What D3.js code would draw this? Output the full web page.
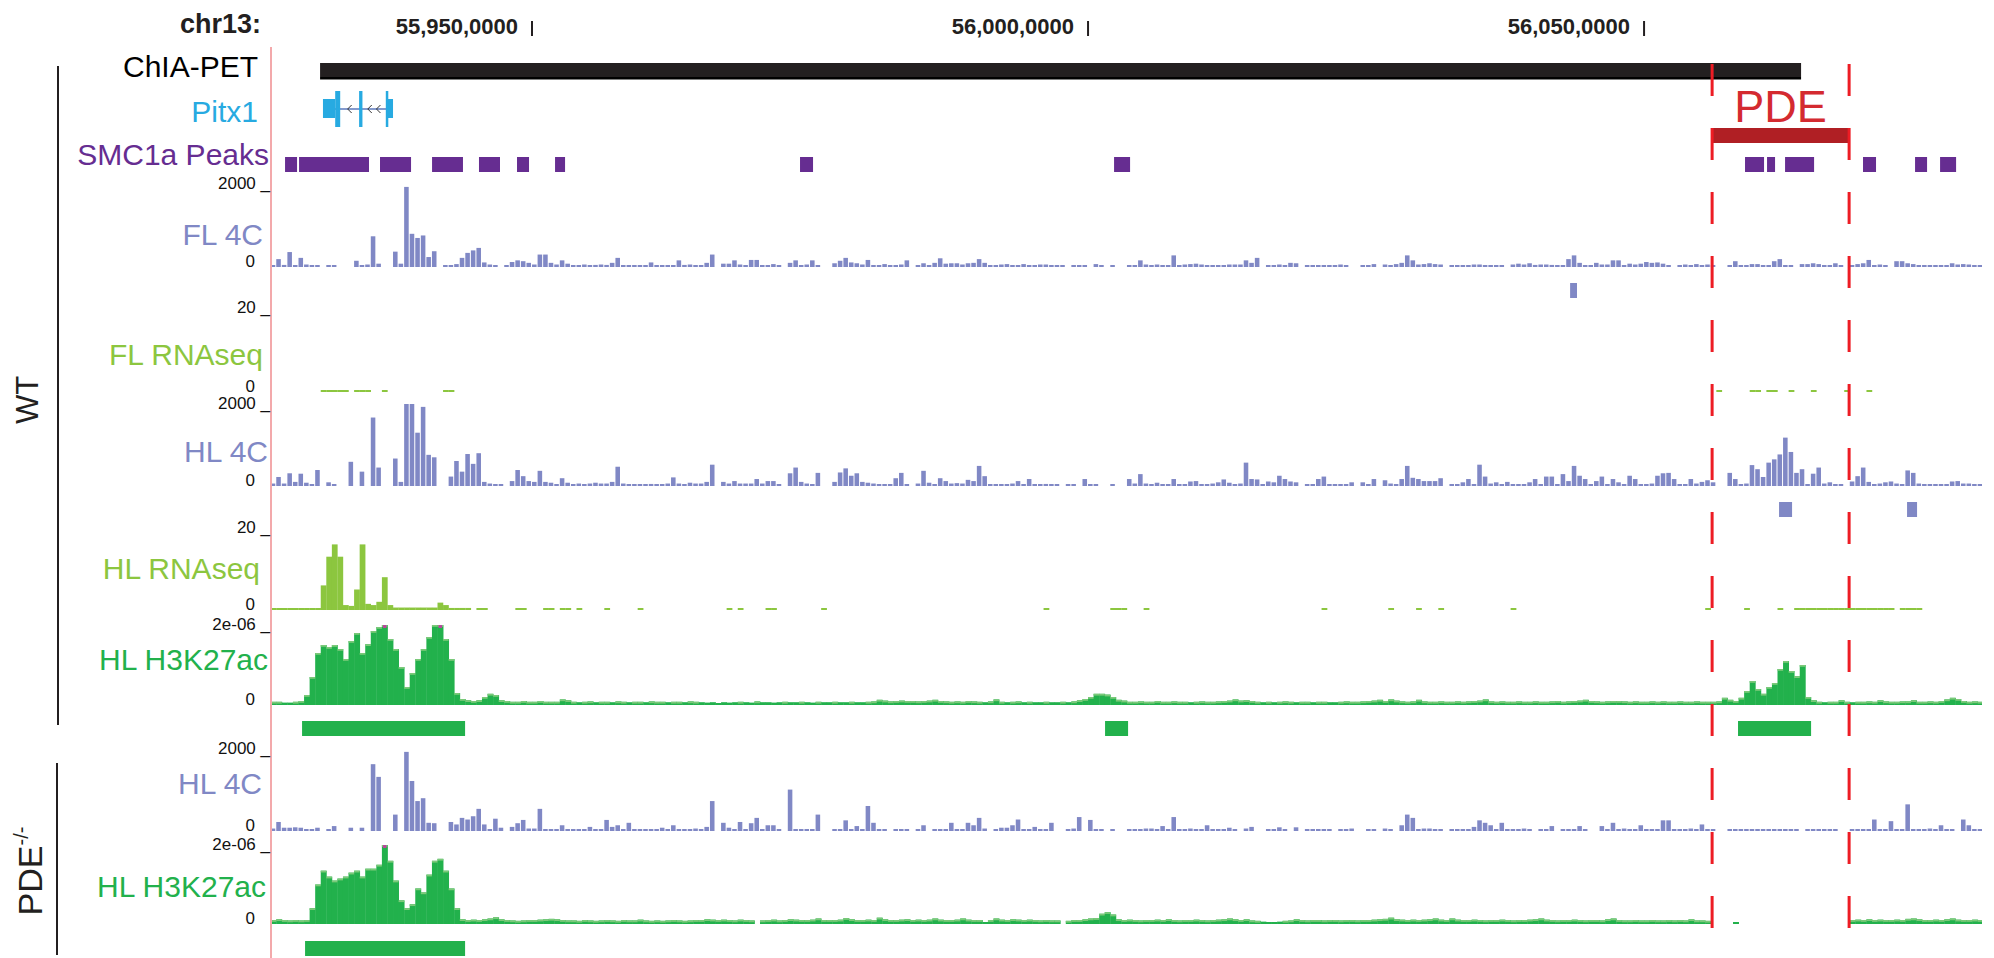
<!DOCTYPE html>
<html>
<head>
<meta charset="utf-8">
<script src="https://cdnjs.cloudflare.com/ajax/libs/d3/7.8.5/d3.min.js"></script>
<style>
body { margin: 0; background: #fff; }
text { font-family: "Liberation Sans", Arial, Helvetica, sans-serif; }
</style>
</head>
<body>
<div id="chart"></div>
<script>
// chr13 view, all positions in kb
var viewStart = 55926.5, viewEnd = 56080.3;
var binStart = 55926.5, binSize = 0.5;   // signal tracks: 308 bins of 0.5 kb

var tickPos = [55950, 56000, 56050];
var tickLabels = ["55,950,0000", "56,000,0000", "56,050,0000"];

var chiaPet = [55930.94, 56064.12];
var pitx1Utr = [[55931.2, 55932.3], [55936.9, 55937.5]];
var pitx1Cds = [[55932.3, 55932.75], [55934.45, 55934.75], [55936.85, 55937.05]];
var pdeRegion = [56056.12, 56068.44];

var smc1aPeaks = [[55927.79, 55928.87], [55929.05, 55935.34], [55936.33, 55939.12], [55941.01, 55943.79],
  [55945.23, 55947.12], [55948.65, 55949.73], [55952.07, 55952.97], [55974.10, 55975.27], [56002.34, 56003.78],
  [56059.08, 56060.79], [56061.06, 56061.78], [56062.68, 56065.29], [56069.69, 56070.86], [56074.37, 56075.45],
  [56076.62, 56078.06]];

var fl4cCalls = [[56043.35, 56043.97]];
var hl4cCalls = [[56062.14, 56063.31], [56073.65, 56074.55]];
var hlK27Calls = [[55929.32, 55943.98], [56001.53, 56003.60], [56058.45, 56065.02]];
var pdeK27Calls = [[55929.59, 55943.98]];

// WT forelimb 4C
var fl4c = [
  40,190,50,360,40,220,60,40,30,0,
  30,30,0,0,0,150,40,60,740,80,
  0,0,370,80,1930,800,700,760,240,380,
  0,20,20,70,220,340,400,460,110,60,
  20,0,20,120,160,140,100,60,300,300,
  100,60,160,80,40,40,60,40,50,60,
  50,100,220,30,30,40,30,30,110,40,
  30,40,40,160,50,60,40,40,100,300,
  0,80,80,160,60,40,170,170,40,30,
  70,40,0,100,160,40,60,160,30,0,
  0,90,150,220,110,90,60,170,40,30,
  70,20,40,60,160,0,40,90,40,100,
  210,80,90,90,60,90,100,190,100,30,
  30,60,70,40,40,70,40,40,60,60,
  40,20,20,0,30,30,30,0,70,40,
  0,30,0,0,30,40,160,60,40,60,
  40,40,280,40,60,70,80,60,40,30,
  40,40,60,60,60,160,100,220,0,30,
  40,60,30,100,90,0,30,30,30,30,
  30,30,60,20,0,0,40,30,70,0,
  60,40,70,100,280,160,60,70,90,70,
  60,0,30,30,30,40,60,60,40,40,
  30,30,0,60,80,60,90,50,60,60,
  50,30,30,190,280,100,40,30,100,60,
  60,160,160,40,80,60,80,120,100,110,
  80,40,0,40,60,40,70,40,60,30,
  0,0,30,140,40,40,70,70,40,40,
  140,190,30,30,0,70,70,90,70,30,
  40,90,30,0,40,70,90,170,40,60,
  40,0,140,140,90,70,30,30,30,30,
  30,30,90,60,70,60,30,30];

// WT forelimb RNA-seq
var flRna = [
  0,0,0,0,0,0,0,0,0,.3, .3,.3,.3,.3,0,.3,.3,.3,0,0,
  .3,0,0,0,0,0,0,0,0,0, 0,.3,.3,0,0,0,0,0,0,0,
  0,0,0,0,0,0,0,0,0,0, 0,0,0,0,0,0,0,0,0,0,
  0,0,0,0,0,0,0,0,0,0, 0,0,0,0,0,0,0,0,0,0,
  0,0,0,0,0,0,0,0,0,0, 0,0,0,0,0,0,0,0,0,0,
  0,0,0,0,0,0,0,0,0,0, 0,0,0,0,0,0,0,0,0,0,
  0,0,0,0,0,0,0,0,0,0, 0,0,0,0,0,0,0,0,0,0,
  0,0,0,0,0,0,0,0,0,0, 0,0,0,0,0,0,0,0,0,0,
  0,0,0,0,0,0,0,0,0,0, 0,0,0,0,0,0,0,0,0,0,
  0,0,0,0,0,0,0,0,0,0, 0,0,0,0,0,0,0,0,0,0,
  0,0,0,0,0,0,0,0,0,0, 0,0,0,0,0,0,0,0,0,0,
  0,0,0,0,0,0,0,0,0,0, 0,0,0,0,0,0,0,0,0,0,
  0,0,0,0,0,0,0,0,0,0, 0,0,0,0,0,0,0,0,0,0,
  .3,0,0,0,0,0,.3,.3,0,.3, .3,0,0,.3,0,0,0,.3,0,0,
  0,0,0,.3,0,0,0,.3,0,0, 0,0,0,0,0,0,0,0];

// WT hindlimb 4C
var hl4c = [
  60,220,60,310,100,300,80,40,390,0,
  90,40,0,0,590,0,350,0,1670,450,
  0,0,670,100,2000,2000,1300,1930,760,700,
  0,0,230,610,350,780,540,800,100,60,
  20,20,0,120,390,240,120,100,370,100,
  80,40,190,80,40,60,40,60,80,60,
  60,100,470,60,40,40,30,40,50,40,
  40,60,210,60,40,80,60,60,100,520,
  0,100,60,120,60,60,60,170,60,120,
  120,30,0,310,450,100,60,40,320,0,
  0,100,330,430,250,310,100,80,60,40,
  30,30,190,320,40,0,60,370,80,40,
  190,120,60,70,60,150,120,490,240,40,
  40,30,40,60,120,40,170,40,40,50,
  40,20,0,20,30,0,170,40,40,0,
  0,30,0,0,170,60,290,60,40,80,
  40,40,170,40,40,110,120,40,40,60,
  90,160,80,40,60,570,170,160,40,110,
  90,250,170,110,90,0,40,40,170,230,
  40,30,40,40,90,0,90,40,170,0,
  140,60,40,170,490,200,170,120,120,120,
  190,0,30,30,90,170,40,520,230,60,
  90,40,100,40,40,40,90,170,40,230,
  230,40,290,120,490,250,170,40,120,230,
  40,170,90,40,250,170,40,40,60,250,
  310,320,170,40,40,170,60,100,140,90,
  0,0,320,170,40,60,510,410,220,570,
  650,770,1180,830,320,410,30,300,450,60,
  90,40,40,0,110,240,450,100,40,60,
  90,110,60,40,380,320,60,40,40,40,
  30,40,110,120,60,60,30,30];

// WT hindlimb RNA-seq
var hlRna = [
  .3,.3,.3,.3,.3,.3,.3,.3,.3,6, 13,16,13,1.2,1,5,16,1.5,1.2,2,
  8,1.2,.6,.6,.6,.6,.6,.6,.6,.6, 1.8,1.2,.5,.5,.5,.5,0,.3,.3,0,
  0,0,0,0,.3,.3,0,0,0,.3, .3,0,.3,.3,0,.3,0,0,0,0,
  .3,0,0,0,0,0,.3,0,0,0, 0,0,0,0,0,0,0,0,0,0,
  0,0,.3,0,.3,0,0,0,0,.3, .3,0,0,0,0,0,0,0,0,.3,
  0,0,0,0,0,0,0,0,0,0, 0,0,0,0,0,0,0,0,0,0,
  0,0,0,0,0,0,0,0,0,0, 0,0,0,0,0,0,0,0,0,.3,
  0,0,0,0,0,0,0,0,0,0, 0,.3,.3,.3,0,0,0,.3,0,0,
  0,0,0,0,0,0,0,0,0,0, 0,0,0,0,0,0,0,0,0,0,
  0,0,0,0,0,0,0,0,0,.3, 0,0,0,0,0,0,0,0,0,0,
  0,.3,0,0,0,0,.3,0,0,0, .3,0,0,0,0,0,0,0,0,0,
  0,0,0,.3,0,0,0,0,0,0, 0,0,0,0,0,0,0,0,0,0,
  0,0,0,0,0,0,0,0,0,0, 0,0,0,0,0,0,0,0,.3,0,
  0,0,0,0,0,.3,0,0,0,0, 0,.3,0,0,.3,.3,.3,.3,.3,.3,
  .3,.3,.3,.3,.3,.3,.3,.3,.3,.3, .3,.3,0,.3,.3,.3,.3,0,0,0,
  0,0,0,0,0,0,0,0];

// WT hindlimb H3K27ac, units of 1e-8 (200 = 2e-06)
var hlK27 = [
  8,8,6,6,8,10,25,70,130,150,
  145,150,140,115,160,180,130,152,185,195,
  215,165,140,95,45,80,115,140,170,200,
  215,165,115,30,15,12,10,12,20,28,
  25,12,10,8,8,10,8,8,10,8,
  8,8,14,12,8,7,8,9,7,8,
  8,7,9,8,7,8,8,7,9,8,
  8,7,8,8,7,9,8,7,6,7,
  5,7,6,7,8,7,6,9,7,7,
  6,7,8,7,7,8,7,6,8,7,
  7,8,7,7,8,7,7,8,9,13,
  11,9,10,11,10,10,9,10,11,13,
  10,9,8,9,8,10,9,8,7,9,
  14,8,7,8,9,7,8,7,7,8,
  7,7,8,7,9,12,15,20,28,28,
  26,20,13,11,8,8,9,8,8,10,
  8,8,9,8,8,7,8,9,8,8,
  9,10,11,14,11,12,10,8,7,8,
  7,8,9,8,7,8,8,7,8,8,
  7,7,8,9,8,8,9,10,11,13,
  10,14,11,9,8,9,13,9,8,8,
  9,8,8,9,8,9,10,11,14,9,
  8,9,8,8,9,8,8,9,8,8,
  9,10,8,9,10,11,13,10,9,8,
  9,10,10,9,8,9,8,8,9,8,
  9,8,8,9,8,8,9,8,8,8,
  9,18,13,10,18,35,60,40,28,45,
  55,90,110,85,72,100,20,12,8,7,
  8,8,12,8,7,8,8,9,8,12,
  9,8,8,9,9,12,8,8,9,8,
  10,14,18,15,10,8,9,8];

// PDE-/- hindlimb 4C
var pde4c = [
  60,220,80,80,90,80,40,40,80,0,
  40,120,0,0,80,0,80,0,1630,1320,
  0,0,400,0,1930,1220,730,800,200,190,
  0,0,220,160,320,280,360,540,160,40,
  300,80,0,100,190,270,60,60,540,40,
  40,30,140,40,40,40,30,100,40,40,
  270,100,140,30,200,40,40,30,30,30,
  80,40,140,40,30,30,60,40,100,730,
  0,200,80,30,220,30,190,320,30,140,
  140,30,0,1010,40,40,40,40,400,0,
  0,40,40,260,40,120,40,610,200,30,
  30,0,30,30,30,0,30,140,0,30,
  30,30,200,30,30,200,140,320,60,0,
  20,80,80,140,280,30,30,100,30,30,
  200,0,0,20,60,340,0,270,30,30,
  0,20,0,0,30,30,30,60,60,30,
  120,30,340,30,30,60,30,30,140,30,
  30,30,80,40,0,60,100,0,0,20,
  30,90,30,0,90,0,30,30,30,30,
  30,0,30,30,60,0,0,30,30,0,
  60,30,0,140,400,320,40,60,60,40,
  20,0,30,30,30,30,100,260,200,140,
  30,200,30,30,30,60,30,0,30,30,
  120,0,30,30,30,120,40,0,0,120,
  30,200,30,60,30,30,140,30,30,30,
  260,260,30,30,30,60,30,160,30,20,
  0,0,30,30,30,30,30,30,30,30,
  30,30,30,30,30,0,30,30,30,30,
  30,20,0,0,30,30,30,30,280,30,
  30,240,30,30,650,40,30,30,60,30,
  140,30,30,0,280,140,30,30];

// PDE-/- hindlimb H3K27ac
var pdeK27 = [
  10,12,10,9,10,9,10,40,100,135,
  120,110,115,120,130,135,120,140,140,150,
  215,160,110,60,40,50,90,80,125,160,
  165,135,90,40,12,10,11,10,12,14,
  17,12,10,9,8,9,10,10,11,12,
  13,12,10,9,9,8,10,9,8,9,
  10,9,8,10,9,9,11,9,8,9,
  8,9,10,9,8,9,10,10,12,11,
  10,11,10,9,11,10,9,0,9,10,
  11,9,10,12,11,10,10,11,14,10,
  10,10,11,15,12,10,10,11,10,16,
  12,10,10,11,12,10,11,10,11,14,
  11,10,10,11,14,11,10,10,5,10,
  14,11,10,12,11,10,11,10,9,10,
  9,9,0,8,10,10,12,14,15,26,
  30,24,12,10,11,10,9,10,10,11,
  10,12,10,9,10,10,11,10,9,10,
  11,12,14,12,10,12,9,8,6,5,
  5,6,8,9,12,10,9,10,10,9,
  10,10,9,10,10,9,10,10,11,12,
  13,16,12,11,10,11,10,11,12,14,
  11,10,14,11,10,10,11,10,9,10,
  10,11,10,9,10,10,11,12,14,11,
  10,9,10,10,11,10,9,10,10,9,
  12,14,10,9,9,10,9,9,10,9,
  9,10,9,10,9,12,9,9,8,0,
  0,0,0,5,0,0,0,0,0,0,
  0,0,0,0,0,0,0,0,0,0,
  0,0,0,0,10,11,10,12,10,11,
  10,10,11,10,13,14,12,10,10,11,
  10,12,14,11,10,10,11,10];

var blue = "#8088c5", lime = "#8cc63f", green = "#22b14c";

// layout of the signal tracks
var tracks = [
  {label: "FL 4C", data: fl4c, type: "bar", color: blue, y0: 267, yTop: 184, max: 2000, top: "2000 _", lx: 263, ly: 245},
  {label: "FL RNAseq", data: flRna, type: "rna", color: lime, y0: 392, yTop: 308, max: 20, top: "20 _", lx: 263, ly: 365},
  {label: "HL 4C", data: hl4c, type: "bar", color: blue, y0: 486, yTop: 404, max: 2000, top: "2000 _", lx: 268, ly: 462},
  {label: "HL RNAseq", data: hlRna, type: "rna", color: lime, y0: 610, yTop: 528, max: 20, top: "20 _", lx: 260, ly: 579},
  {label: "HL H3K27ac", data: hlK27, type: "area", color: green, y0: 705, yTop: 625, max: 200, top: "2e-06 _", lx: 268, ly: 670},
  {label: "HL 4C", data: pde4c, type: "bar", color: blue, y0: 831, yTop: 749, max: 2000, top: "2000 _", lx: 262, ly: 794},
  {label: "HL H3K27ac", data: pdeK27, type: "area", color: green, y0: 924, yTop: 845, max: 200, top: "2e-06 _", lx: 266, ly: 897}
];

var W = 1994, H = 958;
var svg = d3.select("#chart").append("svg").attr("width", W).attr("height", H);

var x = d3.scaleLinear().domain([viewStart, viewEnd]).range([270.7, 1981]);
var bw = x(binStart + binSize) - x(binStart);
function bx(i) { return x(binStart + i * binSize); }

svg.append("defs").append("clipPath").attr("id", "plot")
  .append("rect").attr("x", 271).attr("y", 0).attr("width", 1711).attr("height", H);
var plot = svg.append("g").attr("clip-path", "url(#plot)");

// header: chromosome + position ticks
svg.append("text").attr("x", 261).attr("y", 33).attr("text-anchor", "end")
  .attr("font-size", 27).attr("font-weight", "bold").attr("fill", "#231f20").text("chr13:");
var ticks = svg.selectAll("g.tick").data(tickPos).enter().append("g").attr("class", "tick");
ticks.append("line")
  .attr("x1", function(d) { return x(d); }).attr("x2", function(d) { return x(d); })
  .attr("y1", 21).attr("y2", 36).attr("stroke", "#231f20").attr("stroke-width", 2);
ticks.append("text")
  .attr("x", function(d) { return x(d) - 14; }).attr("y", 34).attr("text-anchor", "end")
  .attr("font-size", 22).attr("font-weight", "bold").attr("fill", "#231f20")
  .text(function(d, i) { return tickLabels[i]; });

// left border of data area
svg.append("line").attr("x1", 271).attr("x2", 271).attr("y1", 47).attr("y2", H)
  .attr("stroke", "#f3a9ab").attr("stroke-width", 2);

// ChIA-PET loop
plot.append("rect").attr("x", x(chiaPet[0])).attr("y", 63)
  .attr("width", x(chiaPet[1]) - x(chiaPet[0])).attr("height", 14).attr("fill", "#231f20");
plot.append("rect").attr("x", x(chiaPet[0])).attr("y", 77)
  .attr("width", x(chiaPet[1]) - x(chiaPet[0])).attr("height", 2.5).attr("fill", "#000");

// Pitx1 gene model
var pitxBlue = "#27aae1";
var geneStart = pitx1Utr[0][0], geneEnd = pitx1Utr[1][1];
plot.append("line").attr("x1", x(geneStart)).attr("x2", x(geneEnd)).attr("y1", 109).attr("y2", 109)
  .attr("stroke", "#5b79bd").attr("stroke-width", 1.5);
plot.selectAll("rect.utr").data(pitx1Utr).enter().append("rect")
  .attr("x", function(d) { return x(d[0]); }).attr("width", function(d) { return x(d[1]) - x(d[0]); })
  .attr("y", 99).attr("height", 19).attr("fill", pitxBlue);
plot.selectAll("rect.cds").data(pitx1Cds).enter().append("rect")
  .attr("x", function(d) { return x(d[0]); }).attr("width", function(d) { return Math.max(x(d[1]) - x(d[0]), 2.5); })
  .attr("y", 91).attr("height", 36).attr("fill", pitxBlue);
// strand chevrons in the introns
var blocks = pitx1Utr.concat(pitx1Cds).sort(function(a, b) { return a[0] - b[0]; });
var chev = [];
for (var b = 0; b < blocks.length - 1; b++) {
  var a0 = x(blocks[b][1]) + 3, a1 = x(blocks[b + 1][0]) - 3;
  if (a1 - a0 < 5) continue;
  var n = Math.max(1, Math.floor((a1 - a0) / 7));
  for (var k = 0; k < n; k++) chev.push(a0 + (k + 0.5) * (a1 - a0) / n);
}
plot.selectAll("path.chev").data(chev).enter().append("path")
  .attr("d", function(d) { return "M" + (d + 2) + ",105 L" + (d - 2) + ",109 L" + (d + 2) + ",113"; })
  .attr("fill", "none").attr("stroke", "#333").attr("stroke-width", 1);

// PDE label and bar
plot.append("text").attr("x", (x(pdeRegion[0]) + x(pdeRegion[1])) / 2).attr("y", 122)
  .attr("text-anchor", "middle").attr("font-size", 45).attr("fill", "#d42a30").text("PDE");
plot.append("rect").attr("x", x(pdeRegion[0])).attr("y", 128)
  .attr("width", x(pdeRegion[1]) - x(pdeRegion[0])).attr("height", 15).attr("fill", "#b01f24");

// SMC1a peaks
plot.selectAll("rect.smc").data(smc1aPeaks).enter().append("rect")
  .attr("x", function(d) { return x(d[0]); }).attr("width", function(d) { return x(d[1]) - x(d[0]); })
  .attr("y", 157).attr("height", 15).attr("fill", "#662d91");

// track labels above the signals
var topLabels = [
  {t: "ChIA-PET", c: "#000", x: 258, y: 77},
  {t: "Pitx1", c: pitxBlue, x: 258, y: 122},
  {t: "SMC1a Peaks", c: "#662d91", x: 269, y: 165}
];
svg.selectAll("text.top").data(topLabels).enter().append("text")
  .attr("x", function(d) { return d.x; }).attr("y", function(d) { return d.y; })
  .attr("text-anchor", "end").attr("font-size", 30).attr("fill", function(d) { return d.c; })
  .text(function(d) { return d.t; });

// signal tracks
tracks.forEach(function(t) {
  var y = d3.scaleLinear().domain([0, t.max]).range([t.y0, t.yTop]).clamp(true);
  var pts = t.data.map(function(v, i) { return {i: i, v: v}; }).filter(function(d) { return d.v > 0; });
  var g = plot.append("g");
  var top = function(d) { return Math.min(y(d.v), t.y0 - 2); };
  if (t.type == "area") {
    g.selectAll("rect").data(pts).enter().append("rect")
      .attr("x", function(d) { return bx(d.i); }).attr("width", bw + 0.4)
      .attr("y", top).attr("height", function(d) { return t.y0 - top(d); })
      .attr("fill", t.color);
    g.selectAll("rect.edge").data(pts.filter(function(d) { return t.y0 - top(d) > 3; })).enter().append("rect")
      .attr("x", function(d) { return bx(d.i); }).attr("width", bw)
      .attr("y", top).attr("height", 1.8).attr("fill", "#7cc979");
    g.selectAll("rect.clip").data(pts.filter(function(d) { return d.v > t.max; })).enter().append("rect")
      .attr("x", function(d) { return bx(d.i) + 1; }).attr("width", bw - 2)
      .attr("y", t.yTop).attr("height", 3).attr("fill", "#b8489c");
  } else {
    var w = t.type == "bar" ? bw - 1 : bw + 0.2;
    g.selectAll("rect").data(pts).enter().append("rect")
      .attr("x", function(d) { return bx(d.i); }).attr("width", w)
      .attr("y", top).attr("height", function(d) { return t.y0 - top(d); })
      .attr("fill", t.color);
  }
  svg.append("text").attr("x", t.lx).attr("y", t.ly).attr("text-anchor", "end")
    .attr("font-size", 30).attr("fill", t.color).text(t.label);
  svg.append("text").attr("x", 270).attr("y", y(t.max) + 5).attr("text-anchor", "end")
    .attr("font-size", 17).attr("fill", "#111").text(t.top);
  svg.append("text").attr("x", 255).attr("y", t.y0).attr("text-anchor", "end")
    .attr("font-size", 17).attr("fill", "#111").text("0");
});

// called regions under the tracks
function calls(list, y, h, color) {
  plot.append("g").selectAll("rect").data(list).enter().append("rect")
    .attr("x", function(d) { return x(d[0]); }).attr("width", function(d) { return x(d[1]) - x(d[0]); })
    .attr("y", y).attr("height", h).attr("fill", color);
}
calls(fl4cCalls, 283, 15, blue);
calls(hl4cCalls, 502, 15, blue);
calls(hlK27Calls, 721, 15, green);
calls(pdeK27Calls, 941, 15, green);

// PDE boundaries
svg.selectAll("line.pde").data(pdeRegion).enter().append("line")
  .attr("x1", function(d) { return x(d); }).attr("x2", function(d) { return x(d); })
  .attr("y1", 64).attr("y2", 928)
  .attr("stroke", "#ed1c24").attr("stroke-width", 3).attr("stroke-dasharray", "32,32");

// genotype groups
svg.append("line").attr("x1", 58).attr("x2", 58).attr("y1", 66).attr("y2", 725)
  .attr("stroke", "#231f20").attr("stroke-width", 2);
svg.append("text").attr("transform", "translate(38,400) rotate(-90)").attr("text-anchor", "middle")
  .attr("font-size", 31).attr("fill", "#231f20").text("WT");
svg.append("line").attr("x1", 57).attr("x2", 57).attr("y1", 763).attr("y2", 955)
  .attr("stroke", "#231f20").attr("stroke-width", 2);
var geno = svg.append("text").attr("transform", "translate(42,871) rotate(-90)").attr("text-anchor", "middle")
  .attr("font-size", 34).attr("fill", "#231f20");
geno.append("tspan").text("PDE");
geno.append("tspan").attr("font-size", 20).attr("dy", -14).text("-/-");
</script>
</body>
</html>
